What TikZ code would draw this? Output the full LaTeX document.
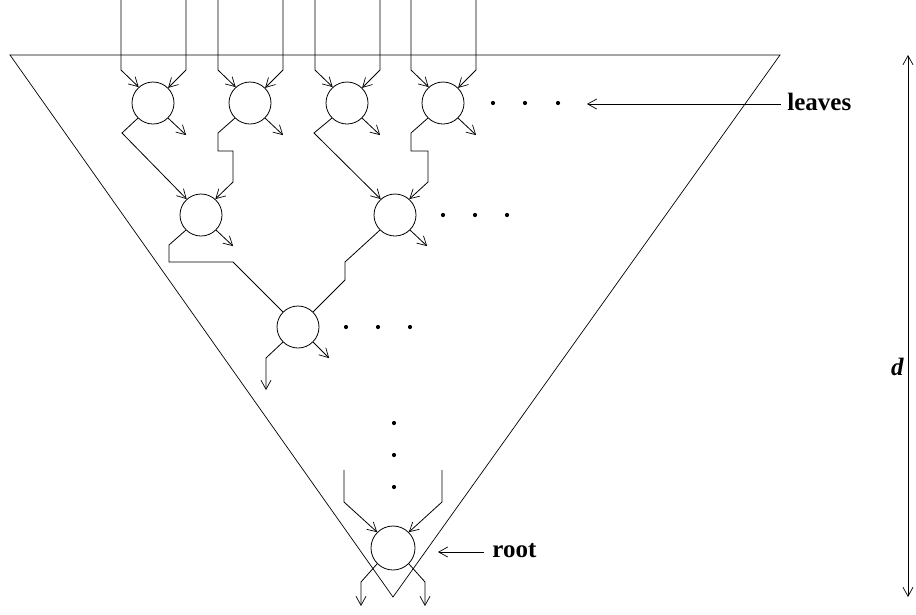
\documentclass[tikz,border=0pt]{standalone}
\usepackage{fontspec}
\setmainfont{Liberation Serif}
\usetikzlibrary{arrows.meta}
\begin{document}
\begin{tikzpicture}[x=1pt,y=-1pt,
  line width=0.8pt,
  arr/.style={-{Straight Barb[length=9pt,width=10pt,line width=0.7pt]}},
  darr/.style={{Straight Barb[length=9pt,width=10pt,line width=0.7pt]}-{Straight Barb[length=9pt,width=10pt,line width=0.7pt]}},
  proc/.style={draw,circle,minimum size=42pt,inner sep=0pt},
  lbl/.style={font=\fontsize{25}{30}\selectfont\bfseries,inner sep=0pt},
  dotm/.style={circle,fill,inner sep=0pt,minimum size=4.2pt}]
\useasboundingbox (0,0) rectangle (916,614);
% triangle
\coordinate (tl) at (10,55);
\coordinate (tr) at (780,55);
\coordinate (tb) at (393,597);
\draw[line width=0.7pt] (tl) -- (tr) -- (tb) -- cycle;
% leaves
\foreach \n/\x in {L1/153,L2/250,L3/347,L4/443}{
  \node[proc] (\n) at (\x,103) {};
  \coordinate (\n ta) at (\x-32,0);
  \coordinate (\n tb) at (\x+33,0);
  \draw[arr] (\n ta) -- ++(0,70) -- (\n.132);
  \draw[arr] (\n tb) -- ++(0,70) -- (\n.45);
  \draw[arr] (\n.-45) -- ++(18,17);
}
% level 2
\node[proc] (N1) at (201,215) {};
\node[proc] (N2) at (395,215) {};
\draw[arr] (L1.-135) -- (122,133) -- (N1.132);
\draw[arr] (L2.-135) -- (218,133) -- (218,151) -- (233,151) -- (233,182) -- (N1.48);
\draw[arr] (L3.-135) -- (314,133) -- (N2.132);
\draw[arr] (L4.-135) -- (411,133) -- (411,151) -- (428,151) -- (428,182) -- (N2.48);
\draw[arr] (N1.-45) -- ++(17,16);
\draw[arr] (N2.-45) -- ++(17,16);
% level 3
\node[proc] (M) at (298,327) {};
\draw (N1.-135) -- (169,245) -- (169,262) -- (233,262) -- (M.135);
\draw (N2.-135) -- (345,262) -- (345,280) -- (M.45);
\coordinate (Mo) at (266,390);
\draw[arr] (M.-135) -- (266,358) -- (Mo);
\draw[arr] (M.-45) -- ++(16,16);
% root
\node[proc,minimum size=44pt] (R) at (393,548) {};
\coordinate (Ra) at (344,470);
\coordinate (Rb) at (442,470);
\coordinate (Rc) at (361,606);
\coordinate (Rd) at (425,606);
\draw[arr] (Ra) -- (344,502) -- (R.135);
\draw[arr] (Rb) -- (442,502) -- (R.45);
\draw[arr] (R.-135) -- (361,582) -- (Rc);
\draw[arr] (R.-45) -- (425,582) -- (Rd);
% dots
\foreach \x/\y in {493/103,525/103,558/103,443/215,475/215,507/215,346/327,378/327,410/327,394/423,394/455,394/487}
  \node[dotm] at (\x,\y) {};
% labels
\node[lbl,anchor=west] (leaves) at (787,102) {leaves};
\coordinate (lt) at (587,104);
\draw[arr,line width=0.6pt] (leaves.west) ++(-6,2) -- (lt);
\node[lbl,anchor=west] (root) at (492,551) {root};
\coordinate (rt) at (438,552);
\draw[arr,line width=0.6pt] (root.west) ++(-8,1) -- (rt);
\coordinate (dtop) at (908,55);
\coordinate (dbot) at (908,597);
\draw[darr,line width=0.7pt] (dtop) -- (dbot);
\node[lbl,anchor=east,font=\fontsize{25}{30}\selectfont\bfseries\itshape] (dl) at (904,367) {d};
\end{tikzpicture}
\end{document}
